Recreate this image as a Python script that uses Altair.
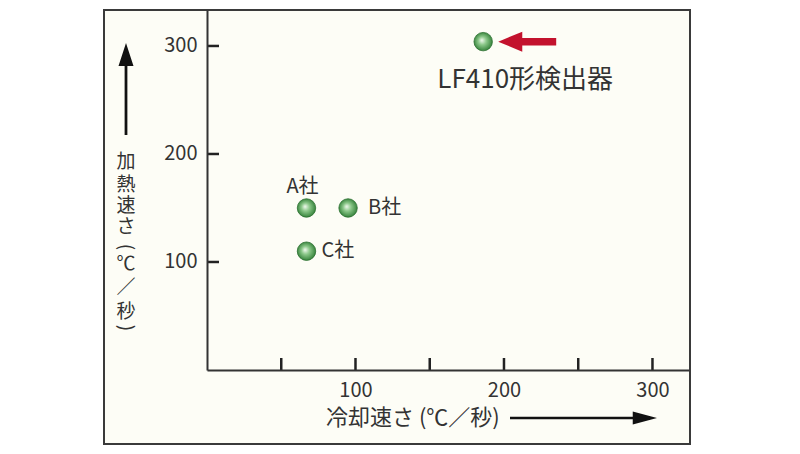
import altair as alt
import pandas as pd

# ---- data ----
companies = ["A社", "B社", "C社", "LF410形検出器"]
cooling_rate = [67, 95, 67, 186]     # 冷却速さ (℃/秒)
heating_rate = [150, 150, 110, 304]  # 加熱速さ (℃/秒)

x_tick_values = [50, 100, 150, 200, 250, 300]
x_label_values = [100, 200, 300]
y_tick_values = [100, 200, 300]

x_title = "冷却速さ (℃／秒)"
# vertical y title: (character, rotation) read top to bottom
y_title_chars = ["加", "熱", "速", "さ", "(", "℃", "／", "秒", ")"]
y_title_angles = [0, 0, 0, 0, 90, 0, 0, 0, 90]

FONT = "Noto Sans CJK JP"
TXT = "#333333"
W, H = 482, 360

df = pd.DataFrame({"company": companies, "cool": cooling_rate, "heat": heating_rate})
xticks = pd.DataFrame({"v": x_tick_values})
yticks = pd.DataFrame({"v": y_tick_values})
one = pd.DataFrame({"d": [0]})

xs = alt.Scale(domain=[0, 324.6], nice=False, zero=False)
ys = alt.Scale(domain=[0, 333.3], nice=False, zero=False)

xaxis = alt.Axis(values=x_label_values, ticks=False, tickSize=0, grid=False, title=None,
                 domainColor="#333333", domainWidth=2, labelFontSize=20, labelFont=FONT,
                 labelColor=TXT, labelPadding=10, zindex=1)
yaxis = alt.Axis(values=y_tick_values, ticks=False, tickSize=0, grid=False, title=None,
                 domainColor="#333333", domainWidth=2, labelFontSize=20, labelFont=FONT,
                 labelColor=TXT, labelPadding=10, zindex=1)

frame = alt.Chart(one).mark_rect(fill="#fdfdf6", stroke="#3a3a3a", strokeWidth=2).encode(
    x=alt.value(-103), x2=alt.value(483), y=alt.value(0), y2=alt.value(434)
)

base = alt.Chart(df).encode(
    x=alt.X("cool:Q", scale=xs, axis=xaxis),
    y=alt.Y("heat:Q", scale=ys, axis=yaxis),
)

xtick_rules = alt.Chart(xticks).mark_rule(color="#222222", strokeWidth=2.5).encode(
    x=alt.X("v:Q", scale=xs, axis=xaxis), y=alt.value(H - 12), y2=alt.value(H)
)
ytick_rules = alt.Chart(yticks).mark_rule(color="#222222", strokeWidth=2.5).encode(
    y=alt.Y("v:Q", scale=ys, axis=yaxis), x=alt.value(0), x2=alt.value(12)
)

grad = alt.RadialGradient(
    gradient="radial",
    stops=[
        alt.GradientStop(offset=0, color="#f2faf0"),
        alt.GradientStop(offset=0.4, color="#8cc88a"),
        alt.GradientStop(offset=1, color="#2b7a31"),
    ],
    x1=0.42, y1=0.42, r1=0.0, x2=0.5, y2=0.5, r2=0.55,
)
points = base.mark_circle(size=340, fill=grad, opacity=1, stroke="#2a6e2e", strokeWidth=0.8)

def label(name, dx, dy, align, size=20):
    return base.transform_filter(alt.datum.company == name).mark_text(
        dx=dx, dy=dy, align=align, baseline="middle", font=FONT, fontSize=size, color=TXT
    ).encode(text="company:N")

lab_a = label("A社", -4, -21, "center")
lab_b = label("B社", 20, 0, "left")
lab_c = label("C社", 15, 0, "left")
lab_lf = label("LF410形検出器", 42, 38, "center", 26)

red_arrow = base.transform_filter(alt.datum.company == "LF410形検出器").mark_point(
    shape="M-1,0L-0.17,-0.345L-0.17,-0.13L1,-0.13L1,0.13L-0.17,0.13L-0.17,0.345Z",
    size=58 * 58, filled=True, color="#c3122d", opacity=1, strokeWidth=0, xOffset=44,
)

y_arrow = alt.Chart(one).mark_point(
    shape="M0,-1L0.163,-0.5L0.03,-0.5L0.03,1L-0.03,1L-0.03,-0.5L-0.163,-0.5Z",
    size=92 * 92, filled=True, color="#111111", opacity=1, strokeWidth=0,
).encode(x=alt.value(-81), y=alt.value(79))

x_arrow = alt.Chart(one).mark_point(
    shape="M1,0L0.67,-0.09L0.67,-0.018L-1,-0.018L-1,0.018L0.67,0.018L0.67,0.09Z",
    size=147 * 147, filled=True, color="#111111", opacity=1, strokeWidth=0,
).encode(x=alt.value(376.5), y=alt.value(408))

# vertical y-axis title, one glyph per text mark
y_centres = [152, 175, 196, 217, 237, 254, 278, 302, 318]
y_title_layers = [
    alt.Chart(one).mark_text(
        text=ch, align="center", baseline="middle", angle=ang,
        font=FONT, fontSize=19, color=TXT,
    ).encode(x=alt.value(-81), y=alt.value(yc))
    for ch, ang, yc in zip(y_title_chars, y_title_angles, y_centres)
]

x_title_mark = alt.Chart(one).mark_text(
    text=x_title, align="left", baseline="middle", font=FONT, fontSize=22, color=TXT,
).encode(x=alt.value(119), y=alt.value(408))

chart = alt.layer(
    frame, xtick_rules, ytick_rules, points, red_arrow, lab_a, lab_b, lab_c, lab_lf,
    y_arrow, x_arrow, *y_title_layers, x_title_mark,
).properties(
    width=W, height=H,
    autosize=alt.AutoSizeParams(type="none"),
    padding={"left": 199, "top": 2, "right": 40, "bottom": 80},
    background="#ffffff",
).configure_view(strokeWidth=0)

chart.save("out.html", embed_options={"renderer": "svg", "actions": False})
